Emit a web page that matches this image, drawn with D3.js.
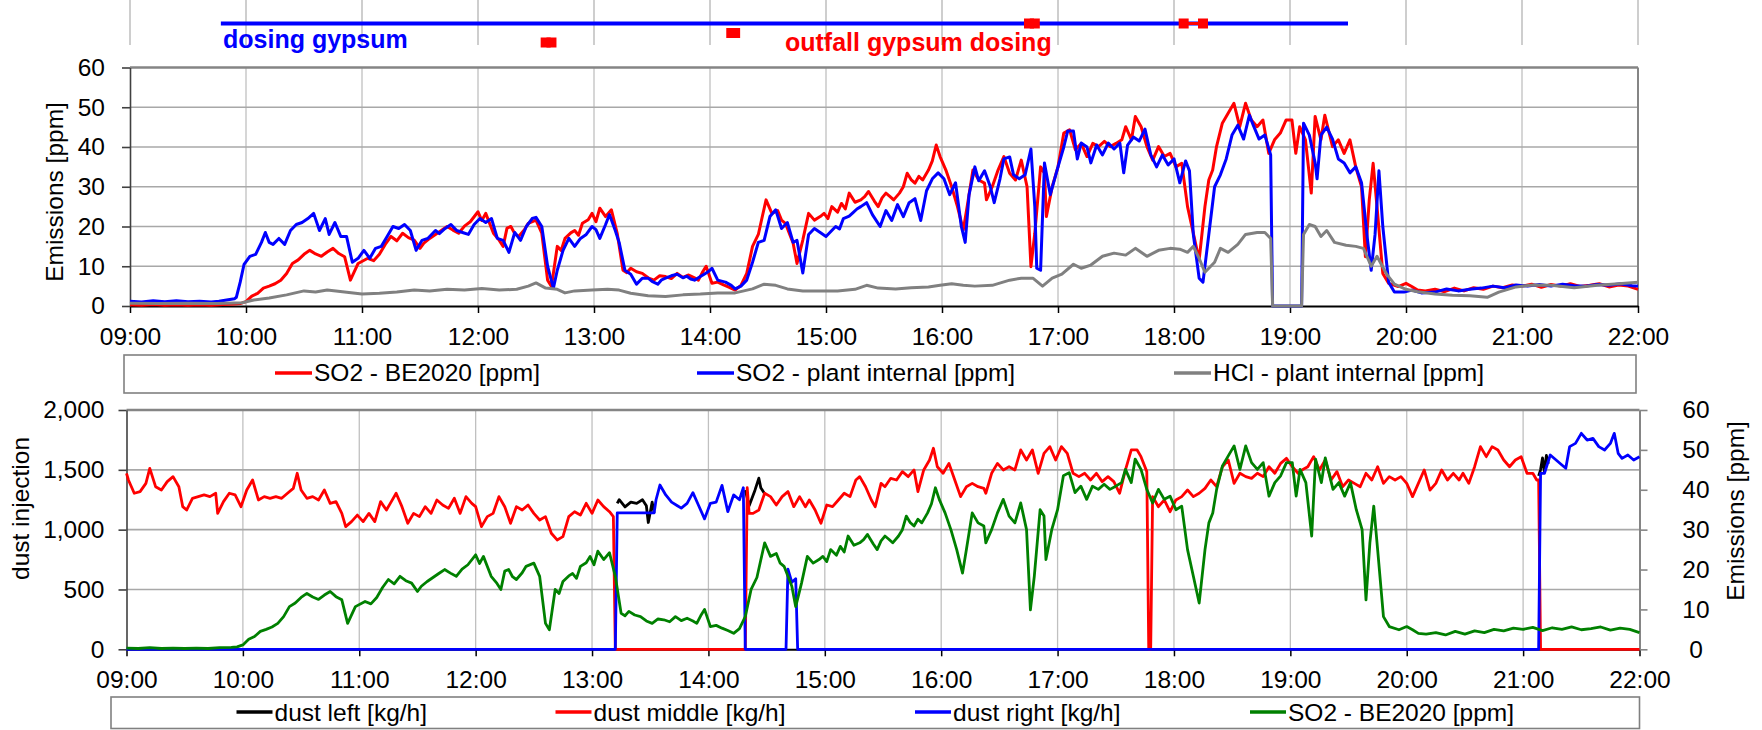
<!DOCTYPE html>
<html>
<head>
<meta charset="utf-8">
<script src="https://cdn.jsdelivr.net/npm/d3@7"></script>
<style>
  body { margin: 0; background: #fff; }
  svg { display: block; font-family: "Liberation Sans", Arial, sans-serif; }
</style>
</head>
<body>
<svg id="chart" width="1762" height="730"></svg>
<script>
// ---- time axis ----
const hourTicks = ["09:00","10:00","11:00","12:00","13:00","14:00","15:00","16:00",
                   "17:00","18:00","19:00","20:00","21:00","22:00"];
const emissionTicks = [0, 10, 20, 30, 40, 50, 60];
const dustTicks = [0, 500, 1000, 1500, 2000];

// ---- gypsum dosing annotations (level = row in the strip above the chart) ----
const dosingGypsum = [["09:47", 3], ["19:30", 3]];
const outfallDosing = [
  [["12:35", 1], ["12:38", 1]],
  [["14:11", 2], ["14:13", 2]],
  [["16:45", 3], ["16:48", 3]],
  [["18:05", 3], ["18:15", 3]]
];

// ---- SO2 - BE2020 [ppm] ----
const so2Be2020 = [
["09:00",0.3],["09:06",0.2],["09:12",0.4],["09:18",0.2],["09:24",0.3],["09:30",0.2],["09:36",0.3],["09:42",0.2],["09:48",0.4],["09:54",0.5],["09:57",0.6],
["10:00",1.1],["10:03",2.5],["10:06",3.2],["10:09",4.5],["10:12",5],["10:15",5.6],["10:18",6.5],["10:21",8.2],["10:24",10.7],["10:27",11.6],["10:30",13],["10:33",14],["10:36",13.1],["10:39",12.5],["10:42",13.6],["10:45",14.5],["10:48",13.2],["10:51",12.4],["10:54",6.5],["10:58",10.7],
["11:03",12],["11:06",11.4],["11:09",13],["11:12",15.5],["11:15",17.5],["11:18",16.4],["11:21",18.3],["11:24",17.2],["11:27",16.6],["11:30",14.5],["11:32",15.8],["11:35",17],["11:38",18],["11:41",19],["11:44",20],["11:47",19.1],["11:50",18.3],["11:53",20.1],["11:56",21.2],
["12:00",23.7],["12:02",21.5],["12:04",23.3],["12:08",18.3],["12:11",16.5],["12:13",15],["12:15",19.6],["12:17",20],["12:19",18.2],["12:21",17.5],["12:24",19.2],["12:26",20.8],["12:30",21.6],["12:33",18.3],["12:36",6.5],["12:38",4.9],["12:41",15],["12:43",14],["12:45",17],["12:48",18.4],["12:50",19],["12:52",17.8],["12:54",20.8],["12:57",21.7],["12:59",23.3],
["13:01",21.2],["13:03",24.6],["13:06",22.5],["13:09",24.2],["13:12",18.3],["13:15",9],["13:17",8.4],["13:19",9.5],["13:22",8.6],["13:25",8.2],["13:28",7.1],["13:31",6.5],["13:34",7.6],["13:37",7.4],["13:40",6.9],["13:43",8.2],["13:46",7.2],["13:49",7.8],["13:52",7.1],["13:54",6.5],["13:56",8.4],["13:58",10],
["14:01",5.7],["14:04",6],["14:07",5.3],["14:10",4.7],["14:13",4],["14:16",5.2],["14:19",8.2],["14:22",15],["14:25",18],["14:27",22.4],["14:29",26.7],["14:32",23.3],["14:35",24],["14:37",21.6],["14:39",20.8],["14:41",18.3],["14:43",15.8],["14:45",10.7],["14:48",16.6],["14:51",23.3],["14:54",21.6],["14:57",22.5],["14:59",23.3],
["15:01",22],["15:03",25],["15:06",23.6],["15:08",25.8],["15:10",24.4],["15:12",28.4],["15:15",26.1],["15:18",26.7],["15:20",27.5],["15:22",28.8],["15:25",26.4],["15:27",25],["15:29",27.2],["15:31",28.4],["15:33",27.6],["15:35",26.7],["15:38",28.4],["15:40",30],["15:42",33.4],["15:44",31.8],["15:46",30.9],["15:48",32.6],["15:50",31.7],["15:53",34.2],["15:55",36.5],["15:57",40.5],["15:59",37.6],
["16:02",34.2],["16:05",30],["16:08",25],["16:11",19.1],["16:13",25],["16:16",34.2],["16:19",31.7],["16:22",30.9],["16:23",26.7],["16:26",30],["16:29",34.2],["16:32",37.6],["16:35",33.4],["16:38",31.7],["16:41",36.7],["16:44",30],["16:46",9.9],["16:48",18.3],["16:51",35],["16:53",33.4],["16:54",22.5],["16:57",30],
["17:00",35],["17:03",43.5],["17:06",44.3],["17:09",39.3],["17:12",40.9],["17:15",37.6],["17:18",40.9],["17:21",40.1],["17:24",41.4],["17:27",40.1],["17:30",40.9],["17:33",41.8],["17:35",45.1],["17:38",41.8],["17:40",47.7],["17:43",45.1],["17:46",40.1],["17:49",36.7],["17:52",40.1],["17:55",37.6],["17:58",38.4],
["18:01",35],["18:04",35.9],["18:07",25],["18:10",18.3],["18:13",11.6],["18:16",25],["18:18",31.7],["18:20",34.2],["18:22",40.1],["18:25",46],["18:28",48.5],["18:31",51],["18:34",45.1],["18:37",51],["18:40",46.8],["18:43",45.1],["18:46",46.8],["18:49",38.4],["18:52",41.8],["18:55",43.5],["18:58",46.8],
["19:01",46.8],["19:03",38.4],["19:05",45.1],["19:08",41.8],["19:11",28.4],["19:13",47.7],["19:16",41.8],["19:18",48],["19:22",40.1],["19:25",41.8],["19:28",38.4],["19:31",41.8],["19:34",35],["19:37",30],["19:39",12.4],["19:41",26.7],["19:43",35.9],["19:45",25],["19:48",8.2],["19:51",5.7],["19:56",4.9],
["20:00",5.7],["20:03",4.9],["20:06",4],["20:10",3.8],["20:15",4.2],["20:20",3.6],["20:25",4.5],["20:30",3.8],["20:35",4.6],["20:40",4.2],["20:45",5],["20:50",4.6],["20:55",5.3],
["21:00",5],["21:05",5.5],["21:10",4.7],["21:15",5.4],["21:20",5],["21:25",5.6],["21:30",4.9],["21:35",5.2],["21:40",5.6],["21:45",4.8],["21:50",5.3],["21:55",5],["22:00",4.2]
];

// ---- SO2 - plant internal [ppm] ----
const so2Plant = [
["09:00",1.2],["09:06",1.0],["09:12",1.3],["09:18",1.1],["09:24",1.3],["09:30",1.1],["09:36",1.2],["09:42",1.0],["09:46",1.2],["09:50",1.5],["09:54",1.8],["09:55",2.2],["09:57",6],["09:59",10.5],
["10:02",12.5],["10:05",13],["10:08",16],["10:10",18.5],["10:12",16],["10:14",15.5],["10:17",17],["10:20",15.5],["10:23",19],["10:26",20.5],["10:29",21],["10:32",22],["10:35",23.3],["10:38",19],["10:41",22],["10:43",18],["10:46",21],["10:49",17.5],["10:52",17.5],["10:55",11],["10:58",12],
["11:01",14],["11:04",12],["11:07",14.5],["11:10",15],["11:13",17.5],["11:16",20],["11:19",19.5],["11:22",20.5],["11:25",19],["11:28",14],["11:31",16.5],["11:34",17],["11:38",19],["11:40",18.2],["11:43",19.5],["11:46",20.5],["11:49",19],["11:52",18.5],["11:55",18],["11:58",20.5],
["12:01",22],["12:04",21],["12:07",22],["12:10",17],["12:13",16.5],["12:16",13.5],["12:19",18.5],["12:22",16.5],["12:25",20],["12:28",22],["12:30",22.3],["12:33",20],["12:36",10],["12:39",4.5],["12:41",9],["12:44",14],["12:47",17],["12:50",15],["12:53",17],["12:56",18],["12:59",20],
["13:01",19.2],["13:03",17],["13:06",20.5],["13:08",23],["13:11",19],["13:13",16],["13:16",9],["13:19",8],["13:22",5.5],["13:25",7],["13:28",7],["13:30",6.2],["13:33",5.5],["13:35",6.6],["13:37",7],["13:40",7.6],["13:43",8],["13:46",7.1],["13:48",7.5],["13:50",6.8],["13:52",6.5],["13:55",7.4],["13:57",8],["13:59",8.6],
["14:01",9.5],["14:04",6.5],["14:08",6],["14:11",5.2],["14:13",4.3],["14:16",5],["14:19",6.5],["14:22",11],["14:25",16],["14:28",16.5],["14:31",22.5],["14:34",24.2],["14:37",19.5],["14:40",21],["14:43",16],["14:45",16.5],["14:48",8.3],["14:51",18],["14:54",19.5],["14:57",18.5],
["15:00",17.5],["15:03",19],["15:05",20],["15:07",19.4],["15:09",22],["15:12",22.6],["15:14",23.5],["15:16",24.4],["15:18",25],["15:21",26],["15:24",23],["15:28",20],["15:31",24],["15:34",21.5],["15:37",25.5],["15:40",22.5],["15:43",26],["15:46",27],["15:49",21.5],["15:52",29],["15:55",32],["15:58",33.5],
["16:01",32],["16:04",28],["16:07",31],["16:10",20],["16:12",16],["16:14",28],["16:17",35],["16:19",31.5],["16:22",34],["16:25",30],["16:27",26],["16:30",32],["16:32",37],["16:35",37.5],["16:37",33],["16:40",32],["16:43",33],["16:46",39.5],["16:48",25],["16:49",9.5],["16:51",9],["16:53",36],["16:56",28],
["17:00",35],["17:03",40],["17:05",44],["17:08",44],["17:10",37],["17:12",41],["17:15",40],["17:17",36],["17:20",40.5],["17:23",38],["17:26",41],["17:29",39.5],["17:32",41],["17:34",33.5],["17:36",40.5],["17:39",42.5],["17:42",41.5],["17:45",44.5],["17:48",38],["17:51",35],["17:54",38],["17:57",35.5],
["18:00",37],["18:03",31],["18:06",36.5],["18:08",34],["18:10",18],["18:13",7],["18:15",6],["18:18",18],["18:21",30],["18:24",33],["18:27",37],["18:30",43],["18:33",45.5],["18:36",42],["18:39",48],["18:41",45.5],["18:44",42],["18:47",43],["18:50",38],["18:51",0],
["19:06",0],["19:07",46],["19:10",43],["19:13",36],["19:14",32],["19:16",43],["19:19",45],["19:22",42],["19:25",37],["19:28",36],["19:31",33.5],["19:34",35],["19:37",31],["19:40",17],["19:42",9],["19:44",18],["19:46",34],["19:48",20],["19:51",6],["19:54",3.5],["19:59",3.5],
["20:03",4],["20:08",3.3],["20:15",3.5],["20:21",4.3],["20:27",3.8],["20:33",4.2],["20:39",4.5],["20:45",5],["20:51",4.6],["20:57",5.3],
["21:03",5],["21:09",5.4],["21:15",5],["21:21",5.5],["21:27",5.1],["21:33",5],["21:39",5.4],["21:45",5.2],["21:51",5.6],["21:57",5.1],["22:00",5]
];

// ---- HCl - plant internal [ppm] ----
const hclPlant = [
["09:00",0.7],["09:15",0.6],["09:30",0.7],["09:45",0.6],["09:58",0.8],["10:04",1.5],["10:12",2],["10:21",2.8],["10:30",3.8],["10:36",3.5],["10:42",4],["10:51",3.5],
["11:00",3],["11:09",3.2],["11:18",3.5],["11:27",4],["11:35",3.8],["11:44",4.2],["11:53",4],["12:02",4.4],["12:11",4],["12:20",4.2],["12:26",5],["12:30",5.8],["12:35",4.5],["12:41",4.2],["12:45",3.3],["12:50",3.8],["12:59",4],
["13:07",4.2],["13:13",4],["13:19",3.2],["13:28",2.6],["13:37",2.4],["13:46",2.8],["13:55",3],["14:04",3.3],["14:13",3.3],["14:22",4.3],["14:28",5.5],["14:34",5.2],["14:40",4.3],["14:48",3.8],["14:57",3.8],
["15:06",3.8],["15:15",4.2],["15:21",5.2],["15:27",4.5],["15:36",4.3],["15:44",4.6],["15:53",4.8],["15:59",5.2],["16:05",5.6],["16:11",5.2],["16:17",5],["16:26",5.2],["16:35",6.5],["16:41",7],["16:47",7],["16:52",5],["16:57",7],
["17:02",8],["17:08",10.5],["17:12",9.5],["17:17",10.3],["17:23",12.5],["17:29",13.3],["17:35",12.8],["17:40",14.5],["17:46",12.5],["17:52",14],["17:58",14.5],
["18:03",14.3],["18:07",13.5],["18:10",15],["18:13",12],["18:16",8.5],["18:21",11],["18:24",14.5],["18:28",13.5],["18:33",15.5],["18:37",18],["18:43",18.5],["18:47",18.5],["18:50",17],["18:51",0],
["19:06",0],["19:07",18],["19:10",20.5],["19:13",20],["19:16",17.5],["19:19",19],["19:23",16],["19:29",15.3],["19:34",15],["19:38",14.5],["19:42",10],["19:45",12.5],["19:50",8],["19:54",5.5],
["20:00",4.2],["20:06",3.6],["20:15",3],["20:24",2.7],["20:33",2.6],["20:42",2.2],["20:48",3.5],["20:57",4.8],["21:06",5.3],["21:15",5.2],["21:27",4.6],["21:39",5.2],["21:50",5.6],["22:00",6]
];

// ---- dust injection [kg/h]; null marks a break in the line ----
const dustLeft = [
["13:13",1220],["13:14",1250],["13:17",1190],["13:20",1230],["13:23",1220],["13:26",1250],["13:28",1200],["13:29",1060],["13:31",1230],["13:32",1140],["13:33",null],
["14:19",1330],["14:21",1200],["14:24",1330],["14:26",1430],["14:27",1350],["14:29",1300],["14:30",null],
["21:08",1450],["21:09",1500],["21:10",1600],["21:11",1480],["21:12",1620],["21:13",1550]
];

const dustMiddle = [
["09:00",1471],["09:01",1415],["09:04",1304],["09:07",1318],["09:10",1387],["09:12",1512],["09:15",1359],["09:18",1331],["09:21",1401],["09:24",1443],["09:27",1359],["09:29",1192],["09:31",1164],["09:34",1262],["09:37",1276],["09:40",1290],["09:43",1276],["09:46",1304],["09:47",1136],["09:50",1234],["09:53",1304],["09:56",1290],["09:59",1192],
["10:02",1331],["10:05",1415],["10:08",1248],["10:11",1276],["10:14",1262],["10:17",1276],["10:20",1262],["10:23",1304],["10:26",1345],["10:28",1471],["10:30",1331],["10:33",1262],["10:36",1276],["10:39",1248],["10:42",1331],["10:45",1220],["10:48",1234],["10:51",1136],["10:53",1025],["10:56",1067],["10:59",1122],
["11:02",1067],["11:05",1136],["11:08",1067],["11:11",1234],["11:14",1164],["11:16",1220],["11:19",1304],["11:22",1192],["11:25",1053],["11:28",1136],["11:31",1109],["11:34",1192],["11:37",1136],["11:40",1248],["11:43",1206],["11:46",1178],["11:49",1262],["11:52",1136],["11:55",1276],["11:58",1220],
["12:00",1192],["12:03",1025],["12:06",1109],["12:09",1136],["12:12",1276],["12:15",1192],["12:18",1053],["12:21",1192],["12:24",1164],["12:27",1206],["12:30",1136],["12:33",1081],["12:36",1109],["12:39",970],["12:42",914],["12:45",942],["12:48",1109],["12:51",1150],["12:54",1122],["12:57",1220],
["13:00",1136],["13:03",1248],["13:06",1192],["13:09",1150],["13:11",1109],["13:12",0],["14:19",0],["14:20",1350],["14:21",1136],["14:23",1136],["14:26",1164],["14:29",1304],["14:32",1276],["14:35",1206],["14:38",1276],["14:41",1318],["14:44",1192],["14:47",1276],["14:50",1192],["14:52",1248],["14:55",1164],["14:58",1053],
["15:01",1206],["15:04",1192],["15:07",1248],["15:10",1304],["15:13",1276],["15:16",1415],["15:18",1443],["15:21",1359],["15:24",1248],["15:26",1192],["15:29",1387],["15:31",1359],["15:34",1429],["15:37",1415],["15:40",1485],["15:43",1443],["15:46",1499],["15:48",1318],["15:51",1499],["15:54",1582],["15:56",1680],["15:58",1526],
["16:01",1471],["16:04",1554],["16:07",1415],["16:10",1276],["16:13",1359],["16:16",1387],["16:19",1359],["16:22",1345],["16:23",1304],["16:26",1471],["16:29",1554],["16:32",1499],["16:35",1526],["16:38",1499],["16:41",1666],["16:44",1582],["16:47",1666],["16:50",1471],["16:53",1638],["16:56",1694],["16:59",1582],
["17:02",1694],["17:05",1638],["17:08",1471],["17:11",1443],["17:14",1471],["17:17",1415],["17:20",1471],["17:23",1401],["17:26",1443],["17:29",1401],["17:32",1304],["17:35",1499],["17:38",1666],["17:41",1666],["17:43",1610],["17:46",1485],["17:47",0],["17:48",0],["17:49",1276],["17:52",1192],["17:55",1248],["17:58",1150],
["18:01",1248],["18:04",1276],["18:07",1331],["18:10",1276],["18:13",1304],["18:16",1345],["18:19",1415],["18:22",1359],["18:25",1526],["18:28",1582],["18:31",1387],["18:34",1471],["18:37",1443],["18:40",1429],["18:43",1471],["18:46",1443],["18:49",1526],["18:52",1471],["18:55",1554],["18:58",1596],
["19:01",1526],["19:04",1471],["19:06",1499],["19:09",1526],["19:12",1610],["19:15",1499],["19:18",1582],["19:21",1415],["19:24",1485],["19:27",1359],["19:30",1415],["19:33",1387],["19:36",1359],["19:39",1471],["19:42",1415],["19:45",1526],["19:48",1387],["19:51",1443],["19:54",1415],["19:57",1443],
["20:00",1387],["20:03",1276],["20:06",1387],["20:09",1499],["20:12",1331],["20:15",1387],["20:18",1499],["20:21",1415],["20:24",1471],["20:27",1415],["20:29",1471],["20:32",1387],["20:35",1526],["20:38",1694],["20:41",1610],["20:44",1694],["20:47",1666],["20:50",1582],["20:53",1526],["20:56",1582],["20:59",1610],
["21:02",1471],["21:05",1471],["21:07",1415],["21:08",1415],["21:09",0],["22:00",0]
];

const dustRight = [
["09:00",0],["13:12",0],["13:13",1140],["13:32",1140],["13:33",1250],["13:35",1373],["13:38",1290],["13:41",1230],["13:44",1200],["13:46",1180],["13:49",1220],["13:52",1309],["13:55",1200],["13:58",1090],
["14:01",1220],["14:04",1230],["14:07",1370],["14:10",1150],["14:13",1290],["14:16",1250],["14:18",1350],["14:19",0],["14:40",0],["14:41",670],["14:43",560],["14:45",590],["14:46",0],
["21:08",0],["21:09",1470],["21:11",1471],["21:14",1624],["21:17",1582],["21:20",1540],["21:22",1513],["21:24",1694],["21:27",1721],["21:30",1805],["21:33",1749],["21:36",1763],["21:39",1694],["21:42",1666],["21:45",1721],["21:47",1805],["21:49",1638],["21:51",1596],["21:54",1624],["21:57",1582],["22:00",1610]
];

// ---- legends ----
const legendTop = [
  { label: "SO2 - BE2020 [ppm]", color: "#ff0000" },
  { label: "SO2 - plant internal [ppm]", color: "#0000ff" },
  { label: "HCl - plant internal [ppm]", color: "#808080" }
];
const legendBottom = [
  { label: "dust left [kg/h]", color: "#000000" },
  { label: "dust middle [kg/h]", color: "#ff0000" },
  { label: "dust right [kg/h]", color: "#0000ff" },
  { label: "SO2 - BE2020 [ppm]", color: "#008000" }
];

// ======================================================================
const svg = d3.select("#chart");
const FONT = 24.5;
const parse = d3.timeParse("%H:%M");
const toPts = arr => arr.map(([t, v]) => ({ t: parse(t), v }));
const tStart = parse(hourTicks[0]), tEnd = parse(hourTicks[hourTicks.length - 1]);
const hourDates = hourTicks.map(parse);
const fmtHour = d3.timeFormat("%H:%M");

// scales
const xTop = d3.scaleTime().domain([tStart, tEnd]).range([130, 1638]);
const yTop = d3.scaleLinear().domain([0, 60]).range([306, 67.5]);
const yStrip = d3.scaleLinear().domain([0, 3]).range([52, 23.5]);
const xBot = d3.scaleTime().domain([tStart, tEnd]).range([126.5, 1639.5]);
const yDust = d3.scaleLinear().domain([0, 2000]).range([649.3, 410]);
const yEmis = d3.scaleLinear().domain([0, 60]).range([649.3, 410]);

svg.append("rect").attr("width", 1762).attr("height", 730).attr("fill", "#fff");

function styleAxisText(g) {
  g.attr("font-family", null).attr("font-size", null);
  g.selectAll("text").attr("font-size", FONT).attr("fill", "#000");
}

// ---------------- dosing strip ----------------
const strip = svg.append("g");
strip.selectAll("line.grid").data(hourDates).join("line")
  .attr("x1", d => xTop(d)).attr("x2", d => xTop(d))
  .attr("y1", 0).attr("y2", 45)
  .attr("stroke", "#b4b4b4").attr("stroke-width", 1.3);

const stripLine = d3.line().x(d => xTop(d.t)).y(d => yStrip(d.v));
strip.append("path").datum(toPts(dosingGypsum))
  .attr("d", stripLine).attr("fill", "none")
  .attr("stroke", "#0000ff").attr("stroke-width", 4);

outfallDosing.forEach(ev => {
  const pts = toPts(ev);
  strip.append("path").datum(pts).attr("d", stripLine)
    .attr("fill", "none").attr("stroke", "#ff0000").attr("stroke-width", 3);
  strip.selectAll(null).data(pts).join("rect")
    .attr("x", d => xTop(d.t) - 5).attr("y", d => yStrip(d.v) - 5)
    .attr("width", 10).attr("height", 10).attr("fill", "#ff0000");
});

strip.append("text").attr("x", 223).attr("y", 48)
  .attr("font-size", 25).attr("font-weight", "bold").attr("fill", "#0000ff")
  .text("dosing gypsum");
strip.append("text").attr("x", 785).attr("y", 51)
  .attr("font-size", 25).attr("font-weight", "bold").attr("fill", "#ff0000")
  .text("outfall gypsum dosing");

// ---------------- emissions chart ----------------
const emisG = svg.append("g");
emisG.selectAll("line.vg").data(hourDates.slice(1, -1)).join("line")
  .attr("x1", d => xTop(d)).attr("x2", d => xTop(d))
  .attr("y1", yTop(60)).attr("y2", yTop(0))
  .attr("stroke", "#c0c0c0").attr("stroke-width", 1.3);
emisG.selectAll("line.hg").data(emissionTicks.slice(1, -1)).join("line")
  .attr("x1", xTop.range()[0]).attr("x2", xTop.range()[1])
  .attr("y1", d => yTop(d)).attr("y2", d => yTop(d))
  .attr("stroke", "#a8a8a8").attr("stroke-width", 1.6);
emisG.append("line").attr("x1", 130).attr("x2", 1638).attr("y1", yTop(60)).attr("y2", yTop(60))
  .attr("stroke", "#858585").attr("stroke-width", 2.5);
emisG.append("line").attr("x1", 1638).attr("x2", 1638).attr("y1", yTop(60)).attr("y2", yTop(0))
  .attr("stroke", "#858585").attr("stroke-width", 2);

const axTopX = emisG.append("g").attr("transform", `translate(0,${yTop(0)})`)
  .call(d3.axisBottom(xTop).tickValues(hourDates).tickFormat(fmtHour)
    .tickSize(7).tickSizeOuter(0).tickPadding(14.5));
styleAxisText(axTopX);
axTopX.select(".domain").attr("stroke", "#000").attr("stroke-width", 2);
axTopX.selectAll(".tick line").attr("stroke", "#000").attr("stroke-width", 1.5);

const axTopY = emisG.append("g").attr("transform", `translate(130,0)`)
  .call(d3.axisLeft(yTop).tickValues(emissionTicks).tickSize(8).tickSizeOuter(0).tickPadding(17));
styleAxisText(axTopY);
axTopY.select(".domain").attr("stroke", "#404040").attr("stroke-width", 1.6);
axTopY.selectAll(".tick line").attr("stroke", "#404040").attr("stroke-width", 1.6);

emisG.append("text")
  .attr("transform", "translate(62.5,192) rotate(-90)")
  .attr("text-anchor", "middle").attr("font-size", FONT).text("Emissions [ppm]");

const lineTop = d3.line().x(d => xTop(d.t)).y(d => yTop(d.v));
[[so2Be2020, "#ff0000"], [so2Plant, "#0000ff"], [hclPlant, "#808080"]].forEach(([arr, c]) => {
  emisG.append("path").datum(toPts(arr)).attr("d", lineTop)
    .attr("fill", "none").attr("stroke", c).attr("stroke-width", 3)
    .attr("stroke-linejoin", "round");
});

// legend of emissions chart
const lgTop = svg.append("g");
lgTop.append("rect").attr("x", 124).attr("y", 355).attr("width", 1512).attr("height", 38)
  .attr("fill", "#fff").attr("stroke", "#808080").attr("stroke-width", 1.6);
const lgTopX = [275, 697, 1174];
legendTop.forEach((d, i) => {
  lgTop.append("line").attr("x1", lgTopX[i]).attr("x2", lgTopX[i] + 37)
    .attr("y1", 373).attr("y2", 373).attr("stroke", d.color).attr("stroke-width", 3.5);
  lgTop.append("text").attr("x", lgTopX[i] + 39).attr("y", 381)
    .attr("font-size", FONT).text(d.label);
});

// ---------------- dust injection chart ----------------
const dustG = svg.append("g");
dustG.selectAll("line.vg").data(hourDates.slice(1, -1)).join("line")
  .attr("x1", d => xBot(d)).attr("x2", d => xBot(d))
  .attr("y1", yDust(2000)).attr("y2", yDust(0))
  .attr("stroke", "#c0c0c0").attr("stroke-width", 1.3);
dustG.selectAll("line.hg").data(dustTicks.slice(1, -1)).join("line")
  .attr("x1", xBot.range()[0]).attr("x2", xBot.range()[1])
  .attr("y1", d => yDust(d)).attr("y2", d => yDust(d))
  .attr("stroke", "#a8a8a8").attr("stroke-width", 1.6);
dustG.append("line").attr("x1", 126.5).attr("x2", 1639.5).attr("y1", yDust(2000)).attr("y2", yDust(2000))
  .attr("stroke", "#858585").attr("stroke-width", 2.5);

const axBotX = dustG.append("g").attr("transform", `translate(0,${yDust(0)})`)
  .call(d3.axisBottom(xBot).tickValues(hourDates).tickFormat(fmtHour)
    .tickSize(7).tickSizeOuter(0).tickPadding(14.5));
styleAxisText(axBotX);
axBotX.select(".domain").attr("stroke", "#000").attr("stroke-width", 2);
axBotX.selectAll(".tick line").attr("stroke", "#000").attr("stroke-width", 1.5);

const axBotY = dustG.append("g").attr("transform", `translate(126.5,0)`)
  .call(d3.axisLeft(yDust).tickValues(dustTicks).tickFormat(d3.format(","))
    .tickSize(8).tickSizeOuter(0).tickPadding(14));
styleAxisText(axBotY);
axBotY.select(".domain").attr("stroke", "#404040").attr("stroke-width", 1.6);
axBotY.selectAll(".tick line").attr("stroke", "#404040").attr("stroke-width", 1.6);

const axBotY2 = dustG.append("g").attr("transform", `translate(1639.5,0)`)
  .call(d3.axisRight(yEmis).tickValues(emissionTicks).tickSize(8).tickSizeOuter(0).tickPadding(14));
styleAxisText(axBotY2);
axBotY2.selectAll("text").attr("text-anchor", "middle").attr("x", 56.5);
axBotY2.select(".domain").attr("stroke", "#858585").attr("stroke-width", 2);
axBotY2.selectAll(".tick line").attr("stroke", "#858585").attr("stroke-width", 1.6);

dustG.append("text")
  .attr("transform", "translate(29,508.5) rotate(-90)")
  .attr("text-anchor", "middle").attr("font-size", FONT).text("dust injection");
dustG.append("text")
  .attr("transform", "translate(1743.5,511) rotate(-90)")
  .attr("text-anchor", "middle").attr("font-size", FONT).text("Emissions [ppm]");

const lineDust = d3.line().defined(d => d.v != null).x(d => xBot(d.t)).y(d => yDust(d.v));
const lineEmis = d3.line().x(d => xBot(d.t)).y(d => yEmis(d.v));
[[dustLeft, "#000000"], [dustMiddle, "#ff0000"], [dustRight, "#0000ff"]].forEach(([arr, c]) => {
  dustG.append("path").datum(toPts(arr)).attr("d", lineDust)
    .attr("fill", "none").attr("stroke", c).attr("stroke-width", 2.8)
    .attr("stroke-linejoin", "round");
});
dustG.append("path").datum(toPts(so2Be2020)).attr("d", lineEmis)
  .attr("fill", "none").attr("stroke", "#008000").attr("stroke-width", 2.8)
  .attr("stroke-linejoin", "round");

// legend of dust chart
const lgBot = svg.append("g");
lgBot.append("rect").attr("x", 111).attr("y", 697).attr("width", 1528.5).attr("height", 31.5)
  .attr("fill", "#fff").attr("stroke", "#808080").attr("stroke-width", 1.6);
const lgBotX = [236.5, 555.5, 915, 1250];
legendBottom.forEach((d, i) => {
  lgBot.append("line").attr("x1", lgBotX[i]).attr("x2", lgBotX[i] + 36)
    .attr("y1", 712).attr("y2", 712).attr("stroke", d.color).attr("stroke-width", 3.5);
  lgBot.append("text").attr("x", lgBotX[i] + 38).attr("y", 720.5)
    .attr("font-size", FONT).text(d.label);
});
</script>
</body>
</html>
